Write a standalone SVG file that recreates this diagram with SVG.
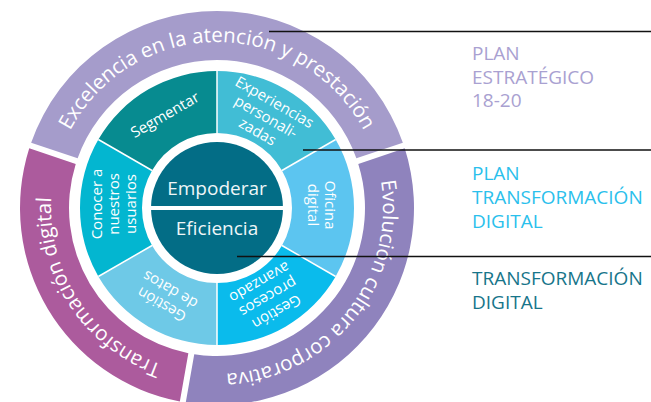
<svg xmlns="http://www.w3.org/2000/svg" xmlns:xlink="http://www.w3.org/1999/xlink" width="651" height="402" viewBox="0 0 651 402">
<style>
.ring{font-family:"Open Sans","Noto Sans",sans-serif;font-size:20.5px;fill:#ffffff}
.seg{font-family:"Open Sans","Noto Sans",sans-serif;font-size:15px;fill:#ffffff;text-anchor:middle}
.core{font-family:"Open Sans","Noto Sans",sans-serif;font-size:19px;fill:#eef6f8;text-anchor:middle}
.lbl{font-family:"Open Sans","Noto Sans",sans-serif;font-size:19px}
.div{stroke:#ffffff;stroke-width:1.5}
.conn{stroke:#111111;stroke-width:1.3;fill:none}
</style>
<defs>
<path id="pTop" d="M 51 208 A 166 166 0 0 1 383 208"/>
<path id="pLeft" d="M 283.19 360.23 A 166 166 0 0 1 102.73 87.59"/>
<path id="pRight" d="M 341.81 98.55 A 166 166 0 0 1 137.16 353.54"/>
</defs>
<rect width="651" height="402" fill="#ffffff"/>

<g id="ring-excelencia">
<path d="M 31.15 142.65 A 197 197 0 0 1 402.85 142.65 L 356.37 158.2 A 148 148 0 0 0 77.63 158.2 Z" fill="#a59ccb"/>
<text class="ring"><textPath xlink:href="#pTop" href="#pTop" startOffset="50%" text-anchor="middle">Excelencia en la atención y prestación</textPath></text>
</g>
<g id="ring-evolucion">
<path d="M 404.75 148.34 A 197 197 0 0 1 185.75 402.51 L 194.26 354.24 A 148 148 0 0 0 358.27 163.89 Z" fill="#8f83bd"/>
<text class="ring"><textPath xlink:href="#pRight" href="#pRight" startOffset="50%" text-anchor="middle">Evolución cultura corporativa</textPath></text>
</g>
<g id="ring-transformacion">
<path d="M 179.84 401.46 A 197 197 0 0 1 29.25 148.34 L 75.73 163.89 A 148 148 0 0 0 188.35 353.2 Z" fill="#ac5b9d"/>
<text class="ring"><textPath xlink:href="#pLeft" href="#pLeft" startOffset="50%" text-anchor="middle">Transformación digital</textPath></text>
</g>

<g id="seg-segmentar">
<path d="M 98.35 139.5 A 137 137 0 0 1 217 71 L 217 133 A 75 75 0 0 0 152.05 170.5 Z" fill="#078b90"/>
<text class="seg" transform="translate(165 115) rotate(-30)" y="5">Segmentar</text>
</g>
<g id="seg-experiencias">
<path d="M 217 71 A 137 137 0 0 1 335.65 139.5 L 281.95 170.5 A 75 75 0 0 0 217 133 Z" fill="#41bdd5"/>
<text class="seg" transform="translate(266 117) rotate(30)"><tspan x="0" y="-12">Experiencias</tspan><tspan x="0" y="5">personali-</tspan><tspan x="0" y="22">zadas</tspan></text>
</g>
<g id="seg-oficina">
<path d="M 335.65 139.5 A 137 137 0 0 1 335.65 276.5 L 281.95 245.5 A 75 75 0 0 0 281.95 170.5 Z" fill="#5cc5f0"/>
<text class="seg" transform="translate(321 205) rotate(90)"><tspan x="0" y="-3.5">Oficina</tspan><tspan x="0" y="13.5">digital</tspan></text>
</g>
<g id="seg-procesos">
<path d="M 335.65 276.5 A 137 137 0 0 1 217 345 L 217 283 A 75 75 0 0 0 281.95 245.5 Z" fill="#0abbec"/>
<text class="seg" transform="translate(268 297) rotate(150)"><tspan x="0" y="-12">Gestión</tspan><tspan x="0" y="5">procesos</tspan><tspan x="0" y="22">avanzado</tspan></text>
</g>
<g id="seg-datos">
<path d="M 217 345 A 137 137 0 0 1 98.35 276.5 L 152.05 245.5 A 75 75 0 0 0 217 283 Z" fill="#6ec9e7"/>
<text class="seg" transform="translate(166 297) rotate(210)"><tspan x="0" y="-3.5">Gestión</tspan><tspan x="0" y="13.5">de datos</tspan></text>
</g>
<g id="seg-conocer">
<path d="M 98.35 276.5 A 137 137 0 0 1 98.35 139.5 L 152.05 170.5 A 75 75 0 0 0 152.05 245.5 Z" fill="#03b6d0"/>
<text class="seg" transform="translate(114 204) rotate(-90)"><tspan x="0" y="-12">Conocer a</tspan><tspan x="0" y="5">nuestros</tspan><tspan x="0" y="22">usuarios</tspan></text>
</g>
<g id="seg-dividers">
<line class="div" x1="217" y1="71" x2="217" y2="133"/>
<line class="div" x1="335.65" y1="139.5" x2="281.95" y2="170.5"/>
<line class="div" x1="335.65" y1="276.5" x2="281.95" y2="245.5"/>
<line class="div" x1="217" y1="345" x2="217" y2="283"/>
<line class="div" x1="98.35" y1="276.5" x2="152.05" y2="245.5"/>
<line class="div" x1="98.35" y1="139.5" x2="152.05" y2="170.5"/>
</g>

<g id="core">
<circle cx="217" cy="208" r="66" fill="#036d86"/>
<line x1="148" y1="208" x2="286" y2="208" stroke="#ffffff" stroke-width="4"/>
<text class="core" x="217" y="195">Empoderar</text>
<text class="core" x="217" y="235">Eficiencia</text>
</g>

<g id="connectors">
<line class="conn" x1="269" y1="31.5" x2="651" y2="31.5"/>
<line class="conn" x1="303" y1="150" x2="651" y2="150"/>
<line class="conn" x1="237" y1="256.5" x2="651" y2="256.5"/>
</g>

<g id="label-plan-estrategico">
<text class="lbl" fill="#a9a1d1"><tspan x="472" y="60">PLAN</tspan><tspan x="472" y="83.5">ESTRATÉGICO</tspan><tspan x="472" y="107">18-20</tspan></text>
</g>
<g id="label-plan-transformacion">
<text class="lbl" fill="#2ac0ec"><tspan x="472" y="180">PLAN</tspan><tspan x="472" y="204">TRANSFORMACIÓN</tspan><tspan x="472" y="228">DIGITAL</tspan></text>
</g>
<g id="label-transformacion">
<text class="lbl" fill="#17758a"><tspan x="472" y="285">TRANSFORMACIÓN</tspan><tspan x="472" y="308.5">DIGITAL</tspan></text>
</g>
</svg>
